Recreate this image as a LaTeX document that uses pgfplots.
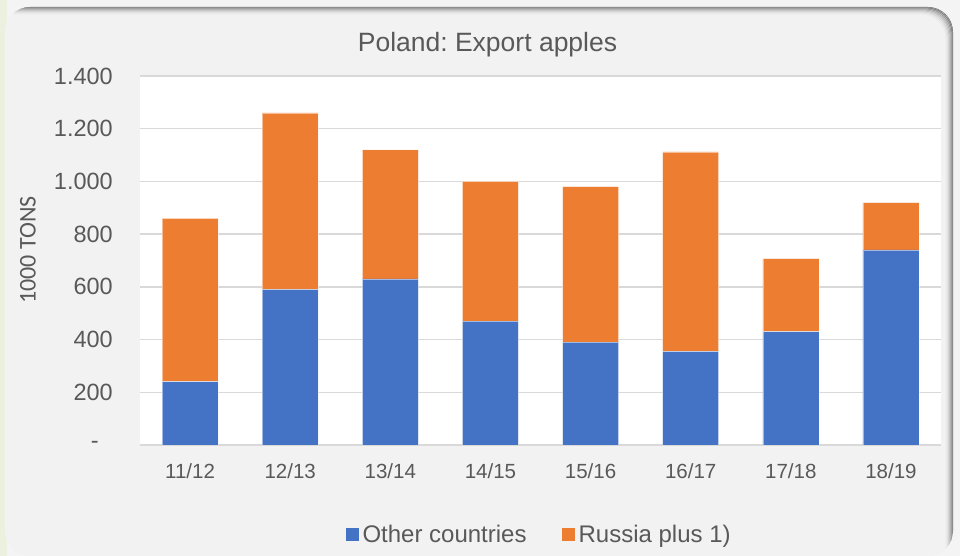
\documentclass[border=0pt]{standalone}
\usepackage{pgfplots}
\pgfplotsset{compat=1.18}
\usepackage{fontspec}
\setmainfont{Liberation Sans}
\newfontfamily\calib{Carlito}
\frenchspacing
\definecolor{panel}{HTML}{F2F2F2}
\definecolor{outerg}{HTML}{EBF1DE}
\definecolor{outerc}{HTML}{F4F4F4}
\definecolor{txt}{HTML}{595959}
\definecolor{gridc}{HTML}{D9D9D9}
\definecolor{cblue}{HTML}{4472C4}
\definecolor{corange}{HTML}{ED7D31}
\begin{document}
\begin{tikzpicture}
\path[use as bounding box] (0pt,0pt) rectangle (960pt,556pt);
\fill[outerc] (0pt,0pt) rectangle (960pt,556pt);
\fill[outerg] (0pt,0pt) rectangle (7pt,556pt);
\begin{scope}
\clip[rounded corners=25pt] (5pt,0pt) rectangle (953pt,549pt);
\fill[panel] (0pt,0pt) rectangle (960pt,556pt);
\foreach \i/\c in {0/55,1/45,2/35,3/26,4/18,5/11,6/6,7/2} {
  \pgfmathsetmacro{\xr}{953-\i}
  \pgfmathsetmacro{\yt}{549-\i}
  \draw[black!\c!panel, line width=1.2pt, rounded corners=25pt] (-20pt,-20pt) rectangle (\xr pt,\yt pt);
}
\end{scope}
\node[anchor=base, font=\fontsize{26.5}{30}\selectfont, text=txt] at (487.5pt,504pt) {Poland: Export apples};
\node[rotate=90, font=\calib\fontsize{24}{28}\selectfont, text=txt] at (28pt,306pt) {1000 TONS};
\begin{axis}[
  at={(140pt,111pt)}, anchor=south west,
  scale only axis, width=801pt, height=369pt,
  ybar stacked, bar width=56pt,
  xmin=-0.5, xmax=7.5, ymin=0, ymax=1400,
  xtick={0,1,2,3,4,5,6,7},
  xticklabels={11/12,12/13,13/14,14/15,15/16,16/17,17/18,18/19},
  ytick={0,200,400,600,800,1000,1200,1400},
  yticklabels={-\hspace*{14pt},200,400,600,800,1.000,1.200,1.400},
  axis background/.style={fill=white},
  ymajorgrids, grid style={gridc, line width=1.5pt},
  axis x line*=bottom, axis y line*=left,
  x axis line style={gridc, line width=1.5pt, -},
  y axis line style={draw=none},
  major tick length=0pt,
  xticklabel style={font=\fontsize{20.5}{24}\selectfont, text=txt, anchor=base, inner sep=0pt, yshift=-34pt},
  yticklabel style={font=\fontsize{23.5}{28}\selectfont, text=txt, anchor=east, inner sep=0pt, xshift=-27pt},
  legend columns=2,
  legend style={at={(0.497,-0.2425)}, anchor=center, draw=none, fill=none,
    font=\fontsize{24}{28}\selectfont, text=txt,
    nodes={inner sep=0pt},
    /tikz/every odd column/.append style={column sep=4pt},
    /tikz/every even column/.append style={column sep=35pt}},
  legend image code/.code={\fill[#1, draw=none] (0pt,-6.5pt) rectangle (13pt,6.5pt);},
]
\addplot[fill=cblue, draw=white, draw opacity=0.5, line width=0.6pt] coordinates {
(0,240) (1,590) (2,630) (3,470) (4,390) (5,355) (6,430) (7,740)};
\addlegendentry{Other countries}
\addplot[fill=corange, draw=white, draw opacity=0.5, line width=0.6pt] coordinates {
(0,620) (1,670) (2,490) (3,530) (4,590) (5,757) (6,277) (7,180)};
\addlegendentry{Russia plus 1)}
\end{axis}
\end{tikzpicture}
\end{document}
